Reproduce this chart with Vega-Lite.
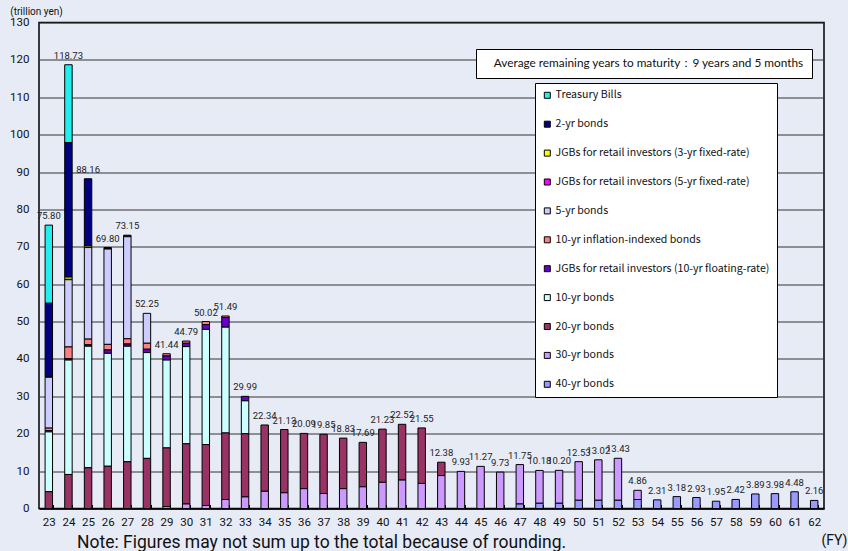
{
  "$schema": "https://vega.github.io/schema/vega-lite/v6.json",
  "width": 785,
  "height": 486,
  "autosize": {"type": "none"},
  "padding": {"left": 39, "top": 22.5, "right": 24, "bottom": 42.5},
  "background": "#e6ebf6",
  "config": {
    "view": {"stroke": "black", "strokeWidth": 1.5, "fill": "white"},
    "font": "Roboto"
  },
  "title": {
    "text": "Note: Figures may not sum up to the total because of rounding.",
    "orient": "bottom",
    "anchor": "start",
    "frame": "group",
    "dx": 38,
    "dy": -14,
    "offset": 0,
    "fontSize": 17.5,
    "fontWeight": "normal",
    "font": "Roboto",
    "color": "#111111"
  },
  "datasets": {
    "names": [
      {"k": "Y40", "type": "40-yr bonds", "rank": 0},
      {"k": "Y30", "type": "30-yr bonds", "rank": 1},
      {"k": "Y20", "type": "20-yr bonds", "rank": 2},
      {"k": "Y10", "type": "10-yr bonds", "rank": 3},
      {"k": "R10", "type": "JGBs for retail investors (10-yr floating-rate)", "rank": 4},
      {"k": "IL", "type": "10-yr inflation-indexed bonds", "rank": 5},
      {"k": "Y5", "type": "5-yr bonds", "rank": 6},
      {"k": "R5", "type": "JGBs for retail investors (5-yr fixed-rate)", "rank": 7},
      {"k": "R3", "type": "JGBs for retail investors (3-yr fixed-rate)", "rank": 8},
      {"k": "Y2", "type": "2-yr bonds", "rank": 9},
      {"k": "TB", "type": "Treasury Bills", "rank": 10}
    ],
    "seg": [
      {"fy": "23", "TB": 20.9, "Y2": 19.6, "R3": 0.1, "R5": 0.1, "Y5": 13.6, "IL": 0.7, "R10": 0.3, "Y10": 16.0, "Y20": 4.5},
      {"fy": "24", "TB": 20.8, "Y2": 36.0, "R3": 0.6, "R5": 0.1, "Y5": 18.0, "IL": 3.1, "R10": 0.4, "Y10": 30.6, "Y20": 9.1},
      {"fy": "25", "Y2": 18.0, "R3": 0.4, "Y5": 24.5, "IL": 1.5, "R10": 0.4, "Y10": 32.5, "Y20": 10.9},
      {"fy": "26", "Y2": 0.3, "R5": 0.1, "Y5": 25.5, "IL": 1.5, "R10": 0.9, "Y10": 30.2, "Y20": 11.3},
      {"fy": "27", "Y2": 0.4, "Y5": 27.3, "IL": 1.4, "R10": 0.6, "Y10": 30.9, "Y20": 12.5},
      {"fy": "28", "Y5": 8.0, "IL": 1.6, "R10": 0.9, "Y10": 28.3, "Y20": 13.4},
      {"fy": "29", "IL": 0.6, "R10": 1.1, "Y10": 23.5, "Y20": 15.7, "Y30": 0.5},
      {"fy": "30", "IL": 0.6, "R10": 0.9, "Y10": 26.0, "Y20": 16.1, "Y30": 1.2},
      {"fy": "31", "IL": 0.8, "R10": 1.3, "Y10": 30.8, "Y20": 16.3, "Y30": 0.8},
      {"fy": "32", "IL": 0.4, "R10": 2.6, "Y10": 28.3, "Y20": 17.8, "Y30": 2.4},
      {"fy": "33", "R10": 1.2, "Y10": 8.8, "Y20": 16.9, "Y30": 3.1},
      {"fy": "34", "Y20": 17.74, "Y30": 4.6},
      {"fy": "35", "Y20": 16.93, "Y30": 4.2},
      {"fy": "36", "Y20": 14.79, "Y30": 5.3},
      {"fy": "37", "Y20": 15.85, "Y30": 4.0},
      {"fy": "38", "Y20": 13.53, "Y30": 5.3},
      {"fy": "39", "Y20": 11.89, "Y30": 5.8},
      {"fy": "40", "Y20": 14.23, "Y30": 7.0},
      {"fy": "41", "Y20": 14.92, "Y30": 7.6},
      {"fy": "42", "Y20": 14.85, "Y30": 6.7},
      {"fy": "43", "Y20": 3.58, "Y30": 8.8},
      {"fy": "44", "Y30": 9.93},
      {"fy": "45", "Y30": 11.27},
      {"fy": "46", "Y30": 9.73},
      {"fy": "47", "Y30": 10.55, "Y40": 1.2},
      {"fy": "48", "Y30": 8.78, "Y40": 1.4},
      {"fy": "49", "Y30": 8.8, "Y40": 1.4},
      {"fy": "50", "Y30": 10.33, "Y40": 2.2},
      {"fy": "51", "Y30": 10.82, "Y40": 2.2},
      {"fy": "52", "Y30": 11.23, "Y40": 2.2},
      {"fy": "53", "Y30": 2.46, "Y40": 2.4},
      {"fy": "54", "Y40": 2.31},
      {"fy": "55", "Y40": 3.18},
      {"fy": "56", "Y40": 2.93},
      {"fy": "57", "Y40": 1.95},
      {"fy": "58", "Y40": 2.42},
      {"fy": "59", "Y40": 3.89},
      {"fy": "60", "Y40": 3.98},
      {"fy": "61", "Y40": 4.48},
      {"fy": "62", "Y40": 2.16}
    ],
    "tot": [
      {"fy": "23", "total": 75.80}, {"fy": "24", "total": 118.73}, {"fy": "25", "total": 88.16},
      {"fy": "26", "total": 69.80}, {"fy": "27", "total": 73.15}, {"fy": "28", "total": 52.25},
      {"fy": "29", "total": 41.44}, {"fy": "30", "total": 44.79}, {"fy": "31", "total": 50.02},
      {"fy": "32", "total": 51.49}, {"fy": "33", "total": 29.99}, {"fy": "34", "total": 22.34},
      {"fy": "35", "total": 21.13}, {"fy": "36", "total": 20.09}, {"fy": "37", "total": 19.85},
      {"fy": "38", "total": 18.83}, {"fy": "39", "total": 17.69}, {"fy": "40", "total": 21.23},
      {"fy": "41", "total": 22.52}, {"fy": "42", "total": 21.55}, {"fy": "43", "total": 12.38},
      {"fy": "44", "total": 9.93}, {"fy": "45", "total": 11.27}, {"fy": "46", "total": 9.73},
      {"fy": "47", "total": 11.75}, {"fy": "48", "total": 10.18}, {"fy": "49", "total": 10.20},
      {"fy": "50", "total": 12.53}, {"fy": "51", "total": 13.02}, {"fy": "52", "total": 13.43},
      {"fy": "53", "total": 4.86}, {"fy": "54", "total": 2.31}, {"fy": "55", "total": 3.18},
      {"fy": "56", "total": 2.93}, {"fy": "57", "total": 1.95}, {"fy": "58", "total": 2.42},
      {"fy": "59", "total": 3.89}, {"fy": "60", "total": 3.98}, {"fy": "61", "total": 4.48},
      {"fy": "62", "total": 2.16}
    ]
  },
  "layer": [
    {
      "data": {"name": "seg"},
      "transform": [
        {"fold": ["TB", "Y2", "R3", "R5", "Y5", "IL", "R10", "Y10", "Y20", "Y30", "Y40"], "as": ["k", "value"]},
        {"filter": "isValid(datum.value) && datum.value > 0"},
        {"lookup": "k", "from": {"data": {"name": "names"}, "key": "k", "fields": ["type", "rank"]}}
      ],
      "mark": {"type": "bar", "stroke": "black", "strokeWidth": 1},
      "encoding": {
        "x": {
          "field": "fy",
          "type": "ordinal",
          "scale": {"paddingInner": 0.62, "paddingOuter": 0.31},
          "axis": {
            "title": "(FY)",
            "titleX": 795,
            "titleY": 32,
            "titleAlign": "center",
            "titleBaseline": "middle",
            "titleFontSize": 14,
            "titleFontWeight": "normal",
            "titleColor": "#111111",
            "labelAngle": 0,
            "labelFontSize": 11.5,
            "labelColor": "#111111",
            "labelPadding": 12,
            "labelOverlap": false,
            "tickBand": "extent",
            "tickSize": -4,
            "tickColor": "black",
            "domainColor": "black",
            "domainWidth": 1.5
          }
        },
        "y": {
          "field": "value",
          "type": "quantitative",
          "stack": "zero",
          "scale": {"domain": [0, 130], "nice": false},
          "axis": {
            "title": "(trillion yen)",
            "titleAngle": 0,
            "titleX": -3,
            "titleY": -11,
            "titleAlign": "center",
            "titleBaseline": "middle",
            "titleFontSize": 10,
            "titleFontWeight": "normal",
            "titleColor": "#111111",
            "values": [0, 10, 20, 30, 40, 50, 60, 70, 80, 90, 100, 110, 120, 130],
            "labelOverlap": false,
            "grid": true,
            "gridColor": "#333333",
            "gridWidth": 1,
            "ticks": false,
            "domain": false,
            "labelPadding": 10,
            "labelFontSize": 11.5,
            "labelColor": "#111111"
          }
        },
        "color": {
          "field": "type",
          "type": "nominal",
          "scale": {
            "domain": [
              "Treasury Bills", "2-yr bonds",
              "JGBs for retail investors (3-yr fixed-rate)",
              "JGBs for retail investors (5-yr fixed-rate)",
              "5-yr bonds", "10-yr inflation-indexed bonds",
              "JGBs for retail investors (10-yr floating-rate)",
              "10-yr bonds", "20-yr bonds", "30-yr bonds", "40-yr bonds"
            ],
            "range": ["#22eeee", "#000080", "#ffff00", "#ff00ff", "#ccccff", "#ff8080", "#6600cc", "#ccffff", "#993366", "#cc99ff", "#9999ff"]
          },
          "legend": {
            "orient": "none",
            "legendX": 496,
            "legendY": 60.5,
            "title": null,
            "fillColor": "white",
            "strokeColor": "black",
            "padding": 7,
            "rowPadding": 17.9,
            "symbolType": "square",
            "symbolSize": 36,
            "symbolStrokeColor": "black",
            "symbolStrokeWidth": 1,
            "labelFont": "Noto Sans CJK JP",
            "labelFontSize": 10.6,
            "labelColor": "#111111",
            "labelLimit": 300,
            "labelOffset": 3
          }
        },
        "order": {"field": "rank", "type": "quantitative"}
      }
    },
    {
      "data": {"name": "tot"},
      "mark": {"type": "text", "baseline": "bottom", "dy": -4, "fontSize": 9.5, "font": "Roboto", "color": "#222222"},
      "encoding": {
        "x": {
          "field": "fy",
          "type": "ordinal",
          "axis": {
            "title": "(FY)",
            "titleX": 795,
            "titleY": 32,
            "titleAlign": "center",
            "titleBaseline": "middle",
            "titleFontSize": 14,
            "titleFontWeight": "normal",
            "titleColor": "#111111",
            "labelAngle": 0,
            "labelFontSize": 11.5,
            "labelColor": "#111111",
            "labelPadding": 12,
            "labelOverlap": false,
            "tickBand": "extent",
            "tickSize": -4,
            "tickColor": "black",
            "domainColor": "black",
            "domainWidth": 1.5
          }
        },
        "y": {
          "field": "total",
          "type": "quantitative",
          "axis": {
            "title": "(trillion yen)",
            "titleAngle": 0,
            "titleX": -3,
            "titleY": -11,
            "titleAlign": "center",
            "titleBaseline": "middle",
            "titleFontSize": 10,
            "titleFontWeight": "normal",
            "titleColor": "#111111",
            "values": [0, 10, 20, 30, 40, 50, 60, 70, 80, 90, 100, 110, 120, 130],
            "labelOverlap": false,
            "grid": true,
            "gridColor": "#333333",
            "gridWidth": 1,
            "ticks": false,
            "domain": false,
            "labelPadding": 10,
            "labelFontSize": 11.5,
            "labelColor": "#111111"
          }
        },
        "text": {"field": "total", "type": "quantitative", "format": ".2f"}
      }
    },
    {
      "data": {"values": [{"note": "Average remaining years to maturity：9 years and 5 months"}]},
      "mark": {"type": "point", "opacity": 0},
      "encoding": {
        "shape": {
          "field": "note",
          "type": "nominal",
          "legend": {
            "orient": "none",
            "legendX": 437,
            "legendY": 26.5,
            "title": null,
            "fillColor": "white",
            "strokeColor": "black",
            "padding": 8,
            "symbolSize": 0,
            "symbolOpacity": 0,
            "symbolStrokeWidth": 0,
            "labelOffset": -2,
            "labelFont": "Lato",
            "labelFontSize": 11.8,
            "labelColor": "#111111",
            "labelLimit": 500
          }
        }
      }
    }
  ]
}
